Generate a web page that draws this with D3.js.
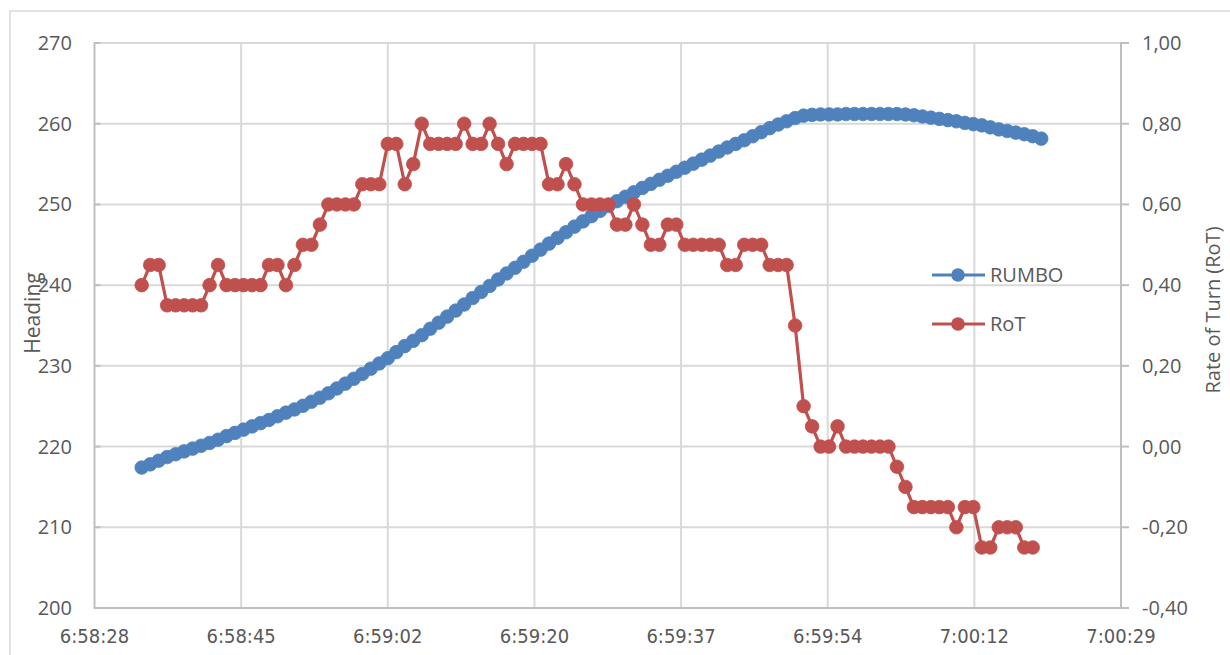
<!DOCTYPE html>
<html>
<head>
<meta charset="utf-8">
<script src="https://cdn.jsdelivr.net/npm/d3@7"></script>
<style>
  html, body { margin: 0; padding: 0; background: #ffffff; }
  svg { display: block; }
</style>
</head>
<body>
<svg id="chart" width="1230" height="655"></svg>
<script>
// ---------------- DATA ----------------
const seriesNames = ["RUMBO", "RoT"];

// sample times (h:mm:ss.s)
const times = [
  "6:58:33.4","6:58:34.4","6:58:35.4","6:58:36.4","6:58:37.4","6:58:38.4","6:58:39.4","6:58:40.4","6:58:41.4","6:58:42.4",
  "6:58:43.4","6:58:44.4","6:58:45.4","6:58:46.4","6:58:47.4","6:58:48.4","6:58:49.4","6:58:50.4","6:58:51.4","6:58:52.4",
  "6:58:53.4","6:58:54.4","6:58:55.4","6:58:56.4","6:58:57.4","6:58:58.4","6:58:59.4",
  "6:59:00.4","6:59:01.4","6:59:02.4","6:59:03.4","6:59:04.4","6:59:05.4","6:59:06.4","6:59:07.4","6:59:08.4","6:59:09.4",
  "6:59:10.4","6:59:11.4","6:59:12.4","6:59:13.4","6:59:14.4","6:59:15.4","6:59:16.4","6:59:17.4","6:59:18.4","6:59:19.4",
  "6:59:20.4","6:59:21.4","6:59:22.4","6:59:23.4","6:59:24.4","6:59:25.4","6:59:26.4","6:59:27.4","6:59:28.4","6:59:29.4",
  "6:59:30.4","6:59:31.4","6:59:32.4","6:59:33.4","6:59:34.4","6:59:35.4","6:59:36.4","6:59:37.4","6:59:38.4","6:59:39.4",
  "6:59:40.4","6:59:41.4","6:59:42.4","6:59:43.4","6:59:44.4","6:59:45.4","6:59:46.4","6:59:47.4","6:59:48.4","6:59:49.4",
  "6:59:50.4","6:59:51.4","6:59:52.4","6:59:53.4","6:59:54.4","6:59:55.4","6:59:56.4","6:59:57.4","6:59:58.4","6:59:59.4",
  "7:00:00.4","7:00:01.4","7:00:02.4","7:00:03.4","7:00:04.4","7:00:05.4","7:00:06.4","7:00:07.4","7:00:08.4","7:00:09.4",
  "7:00:10.4","7:00:11.4","7:00:12.4","7:00:13.4","7:00:14.4","7:00:15.4","7:00:16.4","7:00:17.4","7:00:18.4","7:00:19.4"
];

// Heading (RUMBO), degrees
const rumbo = [
  217.40,217.80,218.25,218.70,219.05,219.40,219.75,220.10,220.45,220.85,
  221.30,221.70,222.10,222.50,222.90,223.30,223.75,224.20,224.60,225.05,
  225.55,226.05,226.60,227.20,227.80,228.40,229.00,229.65,230.30,230.95,
  231.70,232.45,233.10,233.80,234.60,235.35,236.10,236.85,237.60,238.40,
  239.15,239.90,240.70,241.45,242.15,242.90,243.65,244.40,245.15,245.85,
  246.55,247.25,247.90,248.55,249.20,249.80,250.40,250.95,251.50,252.05,
  252.55,253.05,253.55,254.05,254.55,255.05,255.55,256.05,256.55,257.05,
  257.50,257.95,258.45,258.95,259.45,259.90,260.30,260.70,261.00,261.10,
  261.15,261.15,261.15,261.20,261.20,261.20,261.20,261.20,261.20,261.20,
  261.15,261.05,260.90,260.75,260.60,260.45,260.30,260.10,259.95,259.80,
  259.55,259.30,259.10,258.90,258.70,258.45,258.15
];

// Rate of Turn (RoT)
const rot = [
  0.40,0.45,0.45,0.35,0.35,0.35,0.35,0.35,0.40,0.45,
  0.40,0.40,0.40,0.40,0.40,0.45,0.45,0.40,0.45,0.50,
  0.50,0.55,0.60,0.60,0.60,0.60,0.65,0.65,0.65,0.75,
  0.75,0.65,0.70,0.80,0.75,0.75,0.75,0.75,0.80,0.75,
  0.75,0.80,0.75,0.70,0.75,0.75,0.75,0.75,0.65,0.65,
  0.70,0.65,0.60,0.60,0.60,0.60,0.55,0.55,0.60,0.55,
  0.50,0.50,0.55,0.55,0.50,0.50,0.50,0.50,0.50,0.45,
  0.45,0.50,0.50,0.50,0.45,0.45,0.45,0.30,0.10,0.05,
  0.00,0.00,0.05,0.00,0.00,0.00,0.00,0.00,0.00,-0.05,
  -0.10,-0.15,-0.15,-0.15,-0.15,-0.15,-0.20,-0.15,-0.15,-0.25,
  -0.25,-0.20,-0.20,-0.20,-0.25,-0.25
];

// x axis (fraction of day) and its labels
const xTickDays = [0.2906,0.2908,0.2910,0.2912,0.2914,0.2916,0.2918,0.2920];
const xTickLabels = ["6:58:28","6:58:45","6:59:02","6:59:20","6:59:37","6:59:54","7:00:12","7:00:29"];
const yLeftTicks = [200,210,220,230,240,250,260,270];
const yRightTicks = [-0.40,-0.20,0.00,0.20,0.40,0.60,0.80,1.00];
const yRightLabels = ["-0,40","-0,20","0,00","0,20","0,40","0,60","0,80","1,00"];

// ---------------- CHART ----------------
const svg = d3.select("#chart");
const W = 1230, H = 655;
const plot = {left: 94.5, right: 1121, top: 43, bottom: 608};
const blue = "#4f81bd", red = "#c0504d";
const gridColor = "#d9d9d9", axisColor = "#bfbfbf", textColor = "#595959";
const font = "'Open Sans', 'Noto Sans', sans-serif";

function toSec(s) {
  const p = s.split(":").map(Number);
  return p[0]*3600 + p[1]*60 + p[2];
}
const x = d3.scaleLinear()
  .domain([xTickDays[0]*86400, xTickDays[xTickDays.length-1]*86400])
  .range([plot.left, plot.right]);
const yL = d3.scaleLinear().domain([200, 270]).range([plot.bottom, plot.top]);
const yR = d3.scaleLinear().domain([-0.4, 1.0]).range([plot.bottom, plot.top]);

// chart area border
svg.append("rect").attr("x", 10).attr("y", 11).attr("width", W + 10).attr("height", H + 10)
  .attr("fill", "#fff").attr("stroke", gridColor).attr("stroke-width", 1.5);

// gridlines
const g = svg.append("g");
g.selectAll(".hg").data(yLeftTicks.slice(1)).enter().append("line")
  .attr("x1", plot.left).attr("x2", plot.right)
  .attr("y1", d => yL(d)).attr("y2", d => yL(d))
  .attr("stroke", gridColor).attr("stroke-width", 2);
g.selectAll(".vg").data(xTickDays.slice(1, -1)).enter().append("line")
  .attr("x1", d => x(d*86400)).attr("x2", d => x(d*86400))
  .attr("y1", plot.top).attr("y2", plot.bottom)
  .attr("stroke", gridColor).attr("stroke-width", 2);

// axes lines
const axisG = svg.append("g").attr("stroke", axisColor).attr("stroke-width", 2);
axisG.append("line").attr("x1", plot.left).attr("x2", plot.left).attr("y1", plot.top - 1).attr("y2", plot.bottom + 1);
axisG.append("line").attr("x1", plot.right).attr("x2", plot.right).attr("y1", plot.top - 1).attr("y2", plot.bottom + 1);
axisG.append("line").attr("x1", plot.left).attr("x2", plot.right).attr("y1", plot.bottom).attr("y2", plot.bottom);
// left ticks (inside), right ticks (outside)
axisG.selectAll(".lt").data(yLeftTicks).enter().append("line")
  .attr("x1", plot.left).attr("x2", plot.left + 6)
  .attr("y1", d => yL(d)).attr("y2", d => yL(d));
axisG.selectAll(".rt").data(yRightTicks).enter().append("line")
  .attr("x1", plot.right).attr("x2", plot.right + 8)
  .attr("y1", d => yR(d)).attr("y2", d => yR(d));

// tick labels
const t = svg.append("g").attr("fill", textColor).attr("font-family", font).attr("font-size", 20);
t.selectAll(".ll").data(yLeftTicks).enter().append("text")
  .attr("x", 72).attr("y", d => yL(d)).attr("dy", "0.35em")
  .attr("text-anchor", "end").text(d => d);
t.selectAll(".rl").data(yRightTicks).enter().append("text")
  .attr("x", 1142).attr("y", d => yR(d)).attr("dy", "0.35em")
  .attr("text-anchor", "start").text((d, i) => yRightLabels[i]);
t.selectAll(".bl").data(xTickDays).enter().append("text")
  .attr("x", d => x(d*86400)).attr("y", 643)
  .attr("text-anchor", "middle")
  .attr("font-family", "'Liberation Sans Narrow', 'DejaVu Sans Condensed', 'Open Sans', sans-serif")
  .attr("font-size", 20)
  .text((d, i) => xTickLabels[i]);

// axis titles
t.append("text").attr("transform", "translate(40,313) rotate(-90)")
  .attr("text-anchor", "middle").attr("font-size", 21).text("Heading");
t.append("text").attr("transform", "translate(1220,310) rotate(-90)")
  .attr("text-anchor", "middle").attr("font-size", 20).text("Rate of Turn (RoT)");

// series
const rumboData = rumbo.map((v, i) => ({t: toSec(times[i]), v}));
const rotData = rot.map((v, i) => ({t: toSec(times[i]), v}));

function drawSeries(data, yScale, color) {
  const sg = svg.append("g");
  sg.append("path").datum(data)
    .attr("fill", "none").attr("stroke", color).attr("stroke-width", 3.2)
    .attr("stroke-linejoin", "round")
    .attr("d", d3.line().x(d => x(d.t)).y(d => yScale(d.v)));
  sg.selectAll("circle").data(data).enter().append("circle")
    .attr("cx", d => x(d.t)).attr("cy", d => yScale(d.v)).attr("r", 6.8)
    .attr("fill", color).attr("stroke", color).attr("stroke-width", 0.8);
}
drawSeries(rumboData, yL, blue);
drawSeries(rotData, yR, red);

// legend
const legend = [{name: seriesNames[0], color: blue, y: 275}, {name: seriesNames[1], color: red, y: 324}];
const lg = svg.append("g");
legend.forEach(l => {
  lg.append("line").attr("x1", 932).attr("x2", 985).attr("y1", l.y).attr("y2", l.y)
    .attr("stroke", l.color).attr("stroke-width", 3.2);
  lg.append("circle").attr("cx", 958).attr("cy", l.y).attr("r", 6.8).attr("fill", l.color);
  lg.append("text").attr("x", 990).attr("y", l.y).attr("dy", "0.35em")
    .attr("fill", textColor).attr("font-family", font).attr("font-size", 20).text(l.name);
});
</script>
</body>
</html>
